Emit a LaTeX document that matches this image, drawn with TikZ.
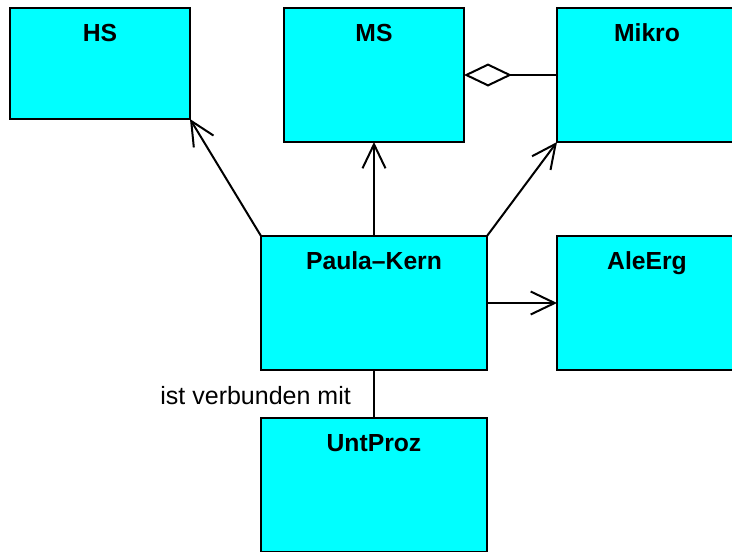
\documentclass[tikz,border=0pt]{standalone}
\usepackage{fontspec}
\setmainfont{Liberation Sans}
\usetikzlibrary{arrows.meta}
\definecolor{clsfill}{HTML}{00FFFF}
\tikzset{
  cls/.style={draw=black, fill=clsfill, line width=2pt, rectangle, inner sep=0pt, outer sep=0pt},
  clstitle/.style={anchor=base, inner sep=0pt, font=\fontsize{24.7}{29}\selectfont\bfseries},
  assoc/.style={line width=2pt, -{Straight Barb[length=24pt, width=23pt, line width=2pt]}},
  aggr/.style={line width=2pt, {Diamond[open, length=48pt, width=23pt, line width=2pt]}-},
  plain/.style={line width=2pt},
  rolelabel/.style={anchor=base east, inner sep=0pt, font=\fontsize{25}{29}\selectfont}
}
\begin{document}
\begin{tikzpicture}[x=1pt, y=-1pt]
  \useasboundingbox (0,0) rectangle (732,552);
  \clip (0,0) rectangle (732,552);

  % class boxes
  \node[cls, minimum width=180pt, minimum height=111pt] (hs) at (100,63.5) {};
  \node[cls, minimum width=180pt, minimum height=134pt] (ms) at (374,75) {};
  \node[cls, minimum width=180pt, minimum height=134pt] (mikro) at (647,75) {};
  \node[cls, minimum width=226pt, minimum height=134pt] (kern) at (374,303) {};
  \node[cls, minimum width=180pt, minimum height=134pt] (aleerg) at (647,303) {};
  \node[cls, minimum width=226pt, minimum height=134pt] (untproz) at (374,485) {};

  % class names
  \node[clstitle] (hsT) at ([yshift=-33pt]hs.north) {HS};
  \node[clstitle] (msT) at ([yshift=-33pt]ms.north) {MS};
  \node[clstitle] (mikroT) at ([yshift=-33pt]mikro.north) {Mikro};
  \node[clstitle] (kernT) at ([yshift=-33pt]kern.north) {Paula--Kern};
  \node[clstitle] (aleergT) at ([yshift=-33pt]aleerg.north) {AleErg};
  \node[clstitle] (untprozT) at ([yshift=-33pt]untproz.north) {UntProz};

  % relations
  \draw[assoc] (kern.north west) -- (hs.south east);
  \draw[assoc] (kern.north) -- (ms.south);
  \draw[assoc] (kern.north east) -- (mikro.south west);
  \draw[assoc] (kern.east) -- (aleerg.west);
  \draw[aggr] (ms.east) -- (mikro.west);
  \draw[plain] (kern.south) -- (untproz.north);

  \node[rolelabel] (role) at (351,404) {ist verbunden mit};
\end{tikzpicture}
\end{document}
